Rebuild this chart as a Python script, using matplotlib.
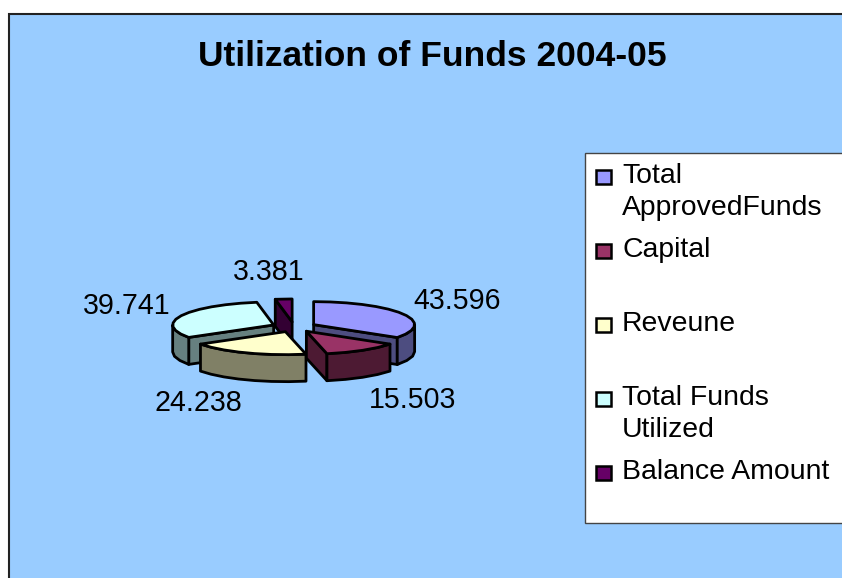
import numpy as np
import matplotlib
matplotlib.use('Agg')
import matplotlib.pyplot as plt
from matplotlib.patches import Polygon, Rectangle

plt.rcParams['font.family'] = ['Liberation Sans', 'DejaVu Sans']

title = 'Utilization of Funds 2004-05'
categories = ['Total\nApprovedFunds', 'Capital', 'Reveune', 'Total Funds\nUtilized', 'Balance Amount']
values = [43.596, 15.503, 24.238, 39.741, 3.381]
top_colors = ['#9999FF', '#993366', '#FFFFCC', '#CCFFFF', '#660066']
wall_colors = ['#4D4D80', '#4D1A33', '#808066', '#668080', '#330033']

# pie geometry, in pixels of the 842x578 image
cx, cy = 294, 327
rx, ry = 101, 23
depth = 27
explode = 0.22
value_label_pos = [(457, 301), (413, 400), (198, 403), (127, 306), (269, 272)]
legend_y = [176, 250, 324, 398, 472]
line_gap = 32


def arc(apex, t1, t2):
    # coarse steps, the original rim is not smooth either
    n = max(2, int(np.degrees(t2 - t1) / 9) + 1)
    t = np.linspace(t1, t2, n)
    return np.column_stack([apex[0] + rx * np.sin(t), apex[1] - ry * np.cos(t)])


def add_poly(ax, pts, color, z):
    ax.add_patch(Polygon(pts, closed=True, facecolor=color, edgecolor='black',
                         linewidth=2, joinstyle='round', zorder=z))


def radial_wall(ax, apex, t, color, z):
    rim = arc(apex, t, t + 1e-6)[0]
    pts = [apex, rim, (rim[0], rim[1] + depth), (apex[0], apex[1] + depth)]
    add_poly(ax, pts, color, z)


def draw_slice(ax, apex, t1, t2, top, wall, z):
    if np.sin(t1) < -1e-6:
        radial_wall(ax, apex, t1, wall, z)
    if np.sin(t2) > 1e-6:
        radial_wall(ax, apex, t2, wall, z)
    # outer rim only where it faces the viewer
    a, b = max(t1, np.pi / 2), min(t2, 3 * np.pi / 2)
    if b > a:
        rim = arc(apex, a, b)
        add_poly(ax, np.vstack([rim, rim[::-1] + [0, depth]]), wall, z)
    add_poly(ax, np.vstack([[apex], arc(apex, t1, t2)]), top, z + 0.5)


fig = plt.figure(figsize=(8.42, 5.78), dpi=100, facecolor='white')
ax = fig.add_axes([0, 0, 1, 1])
ax.set_xlim(0, 842)
ax.set_ylim(578, 0)
ax.axis('off')

# chart area runs off the right and bottom of the image
ax.add_patch(Rectangle((9, 14), 860, 600, facecolor='#99CCFF', edgecolor='#222222', linewidth=1.5, zorder=0))
ax.text(432, 57, title, fontsize=25.5, fontweight='bold', ha='center', va='center', zorder=5)

# slices clockwise from 12 o'clock
edges = np.concatenate([[0], np.cumsum(values)]) / np.sum(values) * 2 * np.pi
order = [4, 3, 0, 2, 1]
for z, i in enumerate(order):
    t1, t2 = edges[i], edges[i + 1]
    mid = (t1 + t2) / 2
    apex = (cx + explode * rx * np.sin(mid), cy - explode * ry * np.cos(mid))
    draw_slice(ax, apex, t1, t2, top_colors[i], wall_colors[i], 2 + z)

for v, (x, y) in zip(values, value_label_pos):
    ax.text(x, y, f'{v:.3f}', fontsize=20.6, ha='center', va='center', zorder=10)

# legend box
ax.add_patch(Rectangle((585, 153), 300, 370, facecolor='white', edgecolor='#444444', linewidth=1, zorder=6))
for name, y, color in zip(categories, legend_y, top_colors):
    ax.add_patch(Rectangle((596, y - 6), 15, 14, facecolor=color, edgecolor='black', linewidth=1.8, zorder=7))
    for k, line in enumerate(name.split('\n')):
        ax.text(622, y + k * line_gap, line, fontsize=20.4, ha='left', va='center', zorder=7)

fig.savefig('out.png', dpi=100)
